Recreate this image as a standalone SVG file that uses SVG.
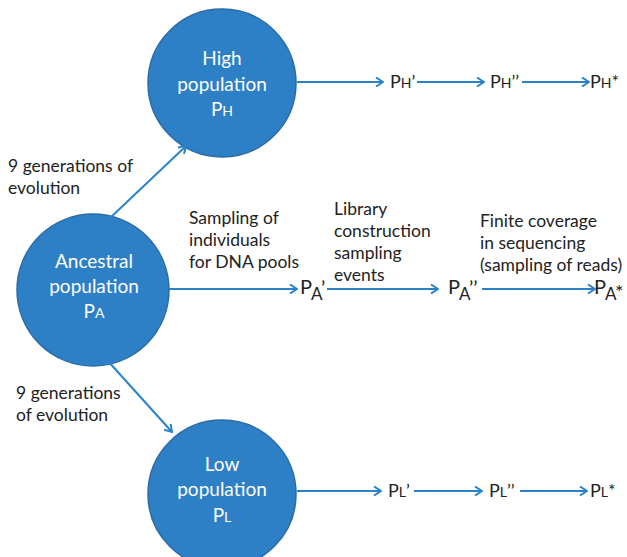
<svg xmlns="http://www.w3.org/2000/svg" width="627" height="557" viewBox="0 0 627 557">
<style>
.node{fill:#2D7FC6;stroke:#2A6BA6;stroke-width:1.5}
.nt{font-family:Lato,"Liberation Sans",sans-serif;font-size:19px;fill:#FFFFFF;text-anchor:middle}
.lb{font-family:Lato,"Liberation Sans",sans-serif;font-size:17.5px;fill:#222222}
.pt{font-family:Lato,"Liberation Sans",sans-serif;font-size:18px;fill:#222222}
.pa{font-family:Lato,"Liberation Sans",sans-serif;font-size:20px;fill:#222222}
.sm{font-size:14px}
.sa{font-size:17px}
.conn line{stroke:#2A82CA;stroke-width:2;marker-end:url(#ah)}
</style>
<defs>
<marker id="ah" viewBox="0 0 10 10" refX="9" refY="5" markerWidth="10" markerHeight="10" markerUnits="userSpaceOnUse" orient="auto">
<path d="M2,0.5 L9,5 L2,9.5" fill="none" stroke="#2A82CA" stroke-width="2"/>
</marker>
</defs>
<rect width="627" height="557" fill="#FFFFFF"/>
<g id="high">
<circle class="node" cx="222" cy="83" r="74"/>
<text class="nt" x="222" y="65">High</text>
<text class="nt" x="222" y="91">population</text>
<text class="nt" x="222" y="116">P<tspan class="sm">H</tspan></text>
</g>
<g id="ancestral">
<circle class="node" cx="93" cy="290" r="76"/>
<text class="nt" x="94" y="268">Ancestral</text>
<text class="nt" x="94" y="293">population</text>
<text class="nt" x="94" y="318">P<tspan class="sm">A</tspan></text>
</g>
<g id="low">
<circle class="node" cx="222" cy="494" r="74"/>
<text class="nt" x="222" y="471">Low</text>
<text class="nt" x="222" y="496">population</text>
<text class="nt" x="222" y="522">P<tspan class="sm">L</tspan></text>
</g>
<g id="ph1"><text class="pt" x="390" y="88">P<tspan class="sm">H</tspan>’</text></g>
<g id="ph2"><text class="pt" x="490" y="88">P<tspan class="sm">H</tspan>’’</text></g>
<g id="ph3"><text class="pt" x="590" y="88">P<tspan class="sm">H</tspan>*</text></g>
<g id="pa1"><text class="pa" x="300" y="294">P<tspan x="311" y="300" class="sa">A</tspan><tspan x="321" y="295">’</tspan></text></g>
<g id="pa2"><text class="pa" x="448" y="294">P<tspan x="459" y="300" class="sa">A</tspan><tspan x="469" y="295">’’</tspan></text></g>
<g id="pa3"><text class="pa" x="594" y="294">P<tspan x="605" y="300" class="sa">A</tspan><tspan x="615" y="299">*</tspan></text></g>
<g id="pl1"><text class="pt" x="388" y="497">P<tspan class="sm">L</tspan>’</text></g>
<g id="pl2"><text class="pt" x="489" y="497">P<tspan class="sm">L</tspan>’’</text></g>
<g id="pl3"><text class="pt" x="590" y="497">P<tspan class="sm">L</tspan>*</text></g>
<g id="labels">
<text class="lb" x="8" y="172">9 generations of</text>
<text class="lb" x="8" y="194">evolution</text>
<text class="lb" x="16" y="399">9 generations</text>
<text class="lb" x="16" y="421">of evolution</text>
<text class="lb" x="189" y="224">Sampling of</text>
<text class="lb" x="189" y="246">individuals</text>
<text class="lb" x="189" y="268">for DNA pools</text>
<text class="lb" x="334" y="215">Library</text>
<text class="lb" x="334" y="237">construction</text>
<text class="lb" x="334" y="259">sampling</text>
<text class="lb" x="334" y="281">events</text>
<text class="lb" x="480" y="227">Finite coverage</text>
<text class="lb" x="480" y="249">in sequencing</text>
<text class="lb" x="480" y="271">(sampling of reads)</text>
</g>
<g class="conn" id="connectors">
<line x1="110" y1="218" x2="186" y2="146"/>
<line x1="107" y1="360" x2="172" y2="432"/>
<line x1="297" y1="82" x2="383" y2="82"/>
<line x1="417" y1="82" x2="484" y2="82"/>
<line x1="522" y1="82" x2="589" y2="82"/>
<line x1="169" y1="289" x2="297" y2="289"/>
<line x1="327" y1="289" x2="438" y2="289"/>
<line x1="482" y1="289" x2="595" y2="289"/>
<line x1="297" y1="491" x2="381" y2="491"/>
<line x1="414" y1="491" x2="482" y2="491"/>
<line x1="520" y1="491" x2="587" y2="491"/>
</g>
</svg>
